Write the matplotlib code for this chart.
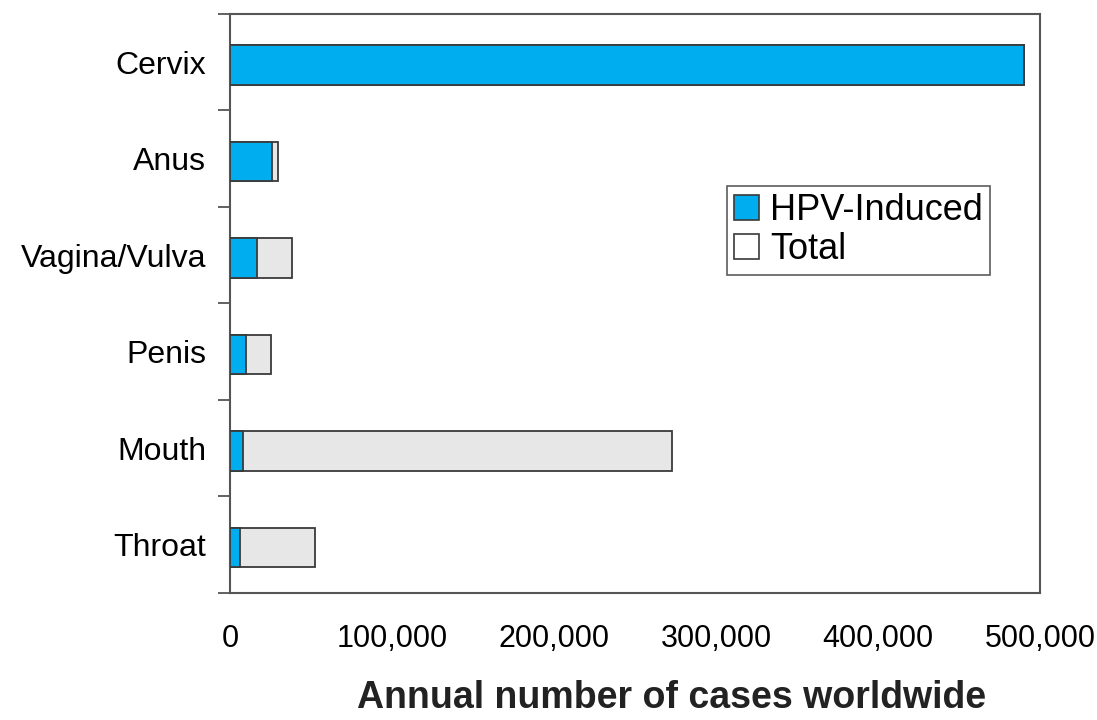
import numpy as np
import matplotlib.pyplot as plt
from matplotlib.ticker import FixedLocator
from matplotlib.patches import Patch

plt.rcParams['font.family'] = ['Liberation Sans', 'DejaVu Sans']

# --- データ ---
sites = ['Cervix', 'Anus', 'Vagina/Vulva', 'Penis', 'Mouth', 'Throat']
hpv_cases = [490000, 25700, 16900, 9900, 8200, 6400]
total_cases = [490000, 29400, 38000, 25500, 272800, 52500]
x_ticks = [0, 100000, 200000, 300000, 400000, 500000]
x_ticklabels = ['0', '100,000', '200,000', '300,000', '400,000', '500,000']

blue = '#00aeef'
grey = '#e6e7e6'
edge = '#3a3a3a'

fig = plt.figure(figsize=(10.97, 7.2), dpi=100)
ax = fig.add_axes([0.2097, 0.1764, 0.7383, 0.8042])

y = np.arange(len(sites))
ax.barh(y + 0.03, total_cases, height=0.41, color=grey, edgecolor=edge, linewidth=1.3, zorder=2)
ax.barh(y + 0.03, hpv_cases, height=0.41, color=blue, edgecolor=edge, linewidth=1.3, zorder=3)

ax.set_ylim(len(sites) - 0.5, -0.5)
ax.set_xlim(0, 500000)

# y軸: ラベルはカテゴリ中央、目盛り線は境界
ax.set_yticks(y)
ax.set_yticklabels(sites, fontsize=23)
ax.yaxis.set_minor_locator(FixedLocator(np.arange(-0.5, len(sites), 1.0)))
ax.tick_params(axis='y', which='major', length=0, pad=17)
ax.tick_params(axis='y', which='minor', length=9, width=1.3, color='#555555')

# x軸: 目盛り線は両端のみ
ax.set_xticks(x_ticks)
ax.set_xticklabels(x_ticklabels, fontsize=22)
ax.xaxis.set_minor_locator(FixedLocator([0, 500000]))
ax.tick_params(axis='x', which='major', length=0, pad=22)
ax.tick_params(axis='x', which='minor', length=8, width=1.3, color='#555555')

for s in ax.spines.values():
    s.set_color('#555555')
    s.set_linewidth(1.5)

handles = [Patch(facecolor=blue, edgecolor=edge, linewidth=1.2),
           Patch(facecolor='white', edgecolor=edge, linewidth=1.2)]
leg = ax.legend(handles, ['HPV-Induced', 'Total'], fontsize=26, loc='upper left',
                bbox_to_anchor=(0.613, 0.703), frameon=True, fancybox=False,
                handlelength=0.7, handleheight=0.7, handletextpad=0.3,
                labelspacing=0.12, borderpad=0.2, borderaxespad=0)
leg.get_frame().set_edgecolor('#333333')
leg.get_frame().set_linewidth(1.2)

fig.text(0.612, 0.016, 'Annual number of cases worldwide', fontsize=27,
         fontweight='bold', ha='center', va='baseline', color='#222222')

fig.savefig('out.png', dpi=100)
